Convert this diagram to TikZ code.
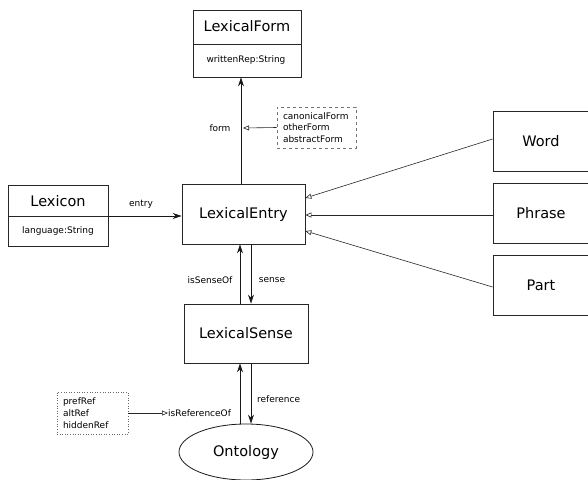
\documentclass[tikz,border=0pt]{standalone}
\usepackage{fontspec}
\setmainfont{DejaVu Sans}
\usetikzlibrary{arrows.meta,shapes.geometric}
\begin{document}
\begin{tikzpicture}[x=1pt,y=-1pt,
  box/.style={draw=black!85,line width=0.8pt,inner sep=0pt},
  title/.style={font=\fontsize{14.5}{17}\selectfont,inner sep=0pt},
  small/.style={font=\fontsize{9}{11.5}\selectfont,inner sep=0pt},
  note/.style={font=\fontsize{9}{11.8}\selectfont,inner ysep=3pt,inner xsep=6pt,align=left,line width=0.6pt},
  assoc/.style={draw=black!90,line width=0.8pt,-{Stealth[length=9pt,width=6pt]}},
  gen/.style={draw=black!85,line width=0.6pt,-{Triangle[open,length=6pt,width=5pt]}}
]
\useasboundingbox (0,0) rectangle (588,479);
\clip (0,0) rectangle (588,479);

% LexicalForm
\node[box,minimum width=108pt,minimum height=67pt] (lf) at (247,43.5) {};
\node[title] (lft) at (247,26) {LexicalForm};
\node[small] (lfa) at (246,60) {writtenRep:String};
\coordinate (lfd) at (0,44);
\draw[draw=black!85,line width=0.8pt] (lf.west |- lfd) -- (lf.east |- lfd);

% Lexicon
\node[box,minimum width=100pt,minimum height=61pt] (lex) at (58,215.5) {};
\node[title] (lext) at (58,201) {Lexicon};
\node[small] (lexa) at (58,231) {language:String};
\coordinate (lexd) at (0,216);
\draw[draw=black!85,line width=0.8pt] (lex.west |- lexd) -- (lex.east |- lexd);

% LexicalEntry
\node[box,title,minimum width=123pt,minimum height=60pt] (le) at (243.5,214) {LexicalEntry};

% LexicalSense
\node[box,title,minimum width=124pt,minimum height=59pt] (ls) at (246,333.5) {LexicalSense};

% Ontology
\node[draw=black!90,line width=0.8pt,ellipse,title,minimum width=134pt,minimum height=56pt] (ont) at (246,452) {Ontology};

% Word / Phrase / Part
\node[box,title,minimum width=96pt,minimum height=60pt] (word) at (541,141) {Word};
\node[box,title,minimum width=96pt,minimum height=60pt] (phrase) at (541,213) {Phrase};
\node[box,title,minimum width=96pt,minimum height=60pt] (part) at (541,285) {Part};

% notes
\node[note,draw=black!55,dashed,text width=67pt,minimum height=41pt] (forms) at (316.5,127.5) {canonicalForm\\otherForm\\abstractForm};
\node[note,draw=black!60,dotted,text width=59pt,minimum height=42pt] (refs) at (92.5,413) {prefRef\\altRef\\hiddenRef};

% labels
\node[small] (formlbl) at (220,128) {form};
\node[small] (entrylbl) at (141,204) {entry};
\node[small] (isslbl) at (210,280) {isSenseOf};
\node[small] (senselbl) at (272,280) {sense};
\node[small,anchor=west] (reflbl) at (257,399) {reference};
\node[small,anchor=west] (iro) at (168,413) {isReferenceOf};
\coordinate (formpt) at (243,128);

% connectors
\draw[assoc] ([xshift=-2.5pt]le.north) -- ([xshift=-2.5pt]le.north |- lf.south);
\draw[gen] (forms.west) -- (formpt);
\draw[assoc] (lex.east |- lexd) -- (le.west |- lexd);
\draw[assoc] ([xshift=-6pt]ls.north) -- ([xshift=-6pt]ls.north |- le.south);
\draw[assoc] ([xshift=5pt]ls.north |- le.south) -- ([xshift=5pt]ls.north);
\draw[assoc] ([xshift=-6pt]ls.south |- ont.north) -- ([xshift=-6pt]ls.south);
\draw[assoc] ([xshift=5pt]ls.south) -- ([xshift=5pt]ls.south |- ont.north);
\draw[gen] (refs.east) -- (iro.west);
\draw[gen] ([yshift=2pt]word.west) -- ([yshift=16pt]le.east);
\draw[gen] ([yshift=-2pt]phrase.west) -- ([yshift=-1pt]le.east);
\draw[gen] ([yshift=-2pt]part.west) -- ([yshift=-17pt]le.east);
\end{tikzpicture}
\end{document}
